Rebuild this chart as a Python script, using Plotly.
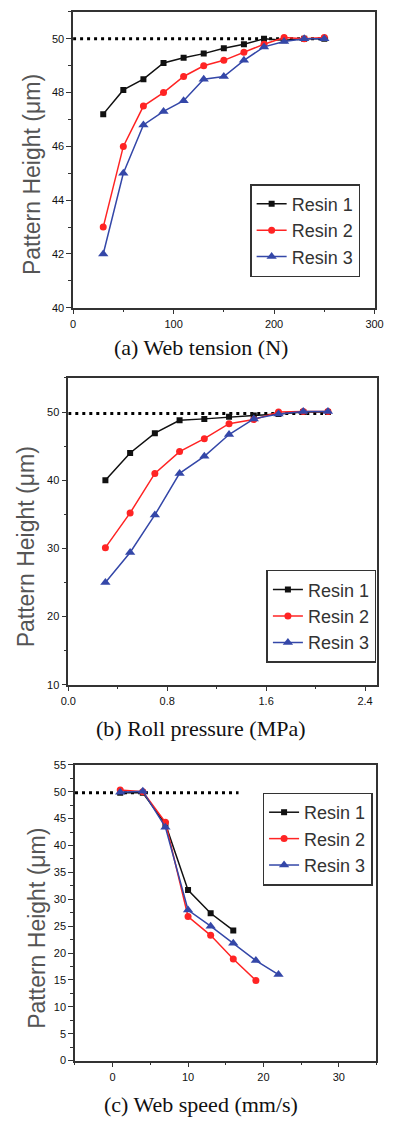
import plotly.graph_objects as go

# ---------------- data ----------------
series_names = ["Resin 1", "Resin 2", "Resin 3"]

# (a) Web tension
tension_x = [30, 50, 70, 90, 110, 130, 150, 170, 190, 210, 230, 250]
tension_r1 = [47.2, 48.1, 48.5, 49.1, 49.3, 49.45, 49.65, 49.8, 50.0, 49.95, 50.0, 50.0]
tension_r2 = [43.0, 46.0, 47.5, 48.0, 48.6, 49.0, 49.2, 49.5, 49.8, 50.05, 50.0, 50.05]
tension_r3 = [42.0, 45.0, 46.8, 47.3, 47.7, 48.5, 48.6, 49.2, 49.7, 49.9, 50.0, 50.0]
tension_ref_x = [0, 254]
tension_ref_y = [50, 50]

# (b) Roll pressure
pressure_x = [0.3, 0.5, 0.7, 0.9, 1.1, 1.3, 1.5, 1.7, 1.9, 2.1]
pressure_r1 = [40.0, 44.0, 46.9, 48.8, 49.0, 49.3, 49.5, 49.7, 50.0, 50.0]
pressure_r2 = [30.1, 35.2, 41.0, 44.2, 46.1, 48.3, 48.9, 50.0, 50.1, 50.1]
pressure_r3 = [25.0, 29.4, 34.9, 41.0, 43.5, 46.7, 49.0, 49.7, 50.1, 50.1]
pressure_ref_x = [0, 2.06]
pressure_ref_y = [49.8, 49.8]

# (c) Web speed
speed_x1 = [1, 4, 7, 10, 13, 16]
speed_r1 = [49.8, 49.8, 44.0, 31.7, 27.4, 24.2]
speed_x2 = [1, 4, 7, 10, 13, 16, 19]
speed_r2 = [50.3, 50.0, 44.3, 26.8, 23.3, 18.9, 14.9]
speed_x3 = [1, 4, 7, 10, 13, 16, 19, 22]
speed_r3 = [49.9, 50.1, 43.4, 28.0, 25.0, 21.8, 18.6, 16.0]
speed_ref_x = [-5, 16.7]
speed_ref_y = [49.8, 49.8]

captions = ["(a) Web tension (N)", "(b) Roll pressure (MPa)", "(c) Web speed (mm/s)"]
y_title = "Pattern Height (\u03bcm)"

# ---------------- styling ----------------
W, H = 396, 1124
colors = ["#111111", "#ff2424", "#3447a8"]
symbols = ["square", "circle", "triangle-up"]
msizes = [6, 7, 9]

def px_x(p):
    return p / W

def px_y(p):
    return 1 - p / H

panels = [
    # plot-area pixels: left, right, top, bottom
    dict(box=(68, 383, 6, 305), xr=[0, 300], yr=[40, 51], xd=100, xm=50, yd=2, ym=1, xfmt="",
         xs=[tension_x] * 3, ys=[tension_r1, tension_r2, tension_r3],
         ref=(tension_ref_x, tension_ref_y), leg=(253, 180), ytx=25, yty=170, cap_y=345),
    dict(box=(63, 386, 376, 686), xr=[0, 2.5], yr=[10, 55], xd=0.8, xm=0.4, yd=10, ym=5, xfmt=".1f",
         xs=[pressure_x] * 3, ys=[pressure_r1, pressure_r2, pressure_r3],
         ref=(pressure_ref_x, pressure_ref_y), leg=(270, 570), ytx=19, yty=547, cap_y=730),
    dict(box=(70, 385, 767, 1066), xr=[-5, 35], yr=[0, 55], xd=10, xm=5, yd=5, ym=2.5, xfmt="",
         xs=[speed_x1, speed_x2, speed_x3], ys=[speed_r1, speed_r2, speed_r3],
         ref=(speed_ref_x, speed_ref_y), leg=(266, 795), ytx=30, yty=932, cap_y=1110),
]

fig = go.Figure()
annotations = []
layout = {}

for i, p in enumerate(panels):
    n = "" if i == 0 else str(i + 1)
    xa, ya = "x" + n, "y" + n
    legname = "legend" + n
    l, r, t, b = p["box"]
    # reference dotted line
    fig.add_trace(go.Scatter(x=p["ref"][0], y=p["ref"][1], mode="lines",
                             line=dict(color="#000000", width=3, dash="3px,4px"),
                             xaxis=xa, yaxis=ya, showlegend=False, hoverinfo="skip"))
    for k in range(3):
        fig.add_trace(go.Scatter(x=p["xs"][k], y=p["ys"][k], mode="lines+markers",
                                 name=series_names[k],
                                 line=dict(color=colors[k], width=1.5),
                                 marker=dict(symbol=symbols[k], size=msizes[k], color=colors[k]),
                                 xaxis=xa, yaxis=ya, legend=legname))
    axis_common = dict(showline=True, linecolor="#333333", linewidth=1.5, mirror=True,
                       ticks="outside", ticklen=5, tickwidth=1.2, tickcolor="#333333",
                       showgrid=False, zeroline=False,
                       tickfont=dict(family="Arial", size=11, color="#111111"))
    layout["xaxis" + n] = dict(domain=[px_x(l), px_x(r)], range=p["xr"], dtick=p["xd"], tick0=0,
                               anchor=ya, tickformat=p["xfmt"],
                               minor=dict(dtick=p["xm"], tick0=0, ticks="outside", ticklen=3,
                                          tickcolor="#333333"),
                               **axis_common)
    layout["yaxis" + n] = dict(domain=[px_y(b), px_y(t)], range=p["yr"], dtick=p["yd"], tick0=0,
                               anchor=xa,
                               minor=dict(dtick=p["ym"], tick0=0, ticks="outside", ticklen=3,
                                          tickcolor="#333333"),
                               **axis_common)
    layout[legname] = dict(x=px_x(p["leg"][0]), y=px_y(p["leg"][1]), xanchor="left", yanchor="top",
                           xref="paper", yref="paper",
                           bgcolor="rgba(255,255,255,0)", bordercolor="#333333", borderwidth=1.5,
                           font=dict(family="Liberation Sans Narrow, Arial", size=18, color="#333333"),
                           itemwidth=30, tracegroupgap=0)
    annotations.append(dict(text=y_title, x=px_x(p["ytx"]), y=px_y(p["yty"]),
                            xref="paper", yref="paper", showarrow=False, textangle=-90,
                            xanchor="center", yanchor="middle",
                            font=dict(family="Arial", size=23, color="#555555")))
    annotations.append(dict(text=captions[i], x=px_x(202), y=px_y(p["cap_y"]),
                            xref="paper", yref="paper", showarrow=False,
                            xanchor="center", yanchor="middle",
                            font=dict(family="Liberation Serif, Times New Roman", size=22,
                                      color="#111111")))

fig.update_layout(width=W, height=H, margin=dict(l=0, r=0, t=0, b=0),
                  paper_bgcolor="white", plot_bgcolor="white",
                  annotations=annotations, **layout)

fig.write_html("out.html")
